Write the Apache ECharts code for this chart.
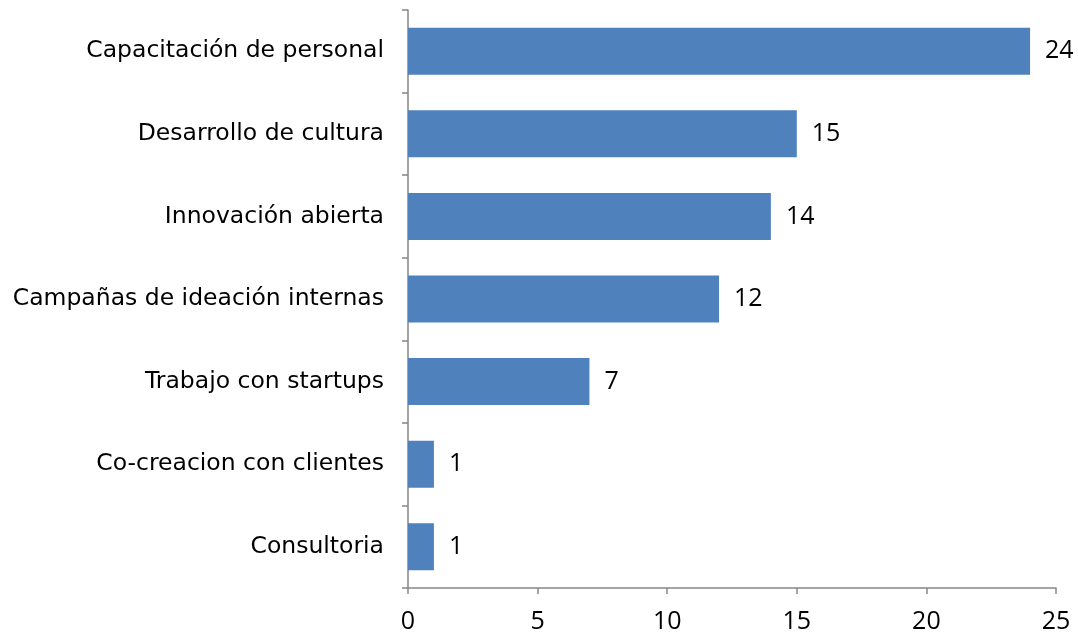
<!DOCTYPE html>
<html>
<head>
<meta charset="utf-8">
<script src="https://cdn.jsdelivr.net/npm/echarts@6/dist/echarts.min.js"></script>
<style>html,body{margin:0;padding:0;background:#fff}#c{width:1078px;height:632px}</style>
</head>
<body>
<div id="c"></div>
<script>
const categories = ["Capacitación de personal","Desarrollo de cultura","Innovación abierta","Campañas de ideación internas","Trabajo con startups","Co-creacion con clientes","Consultoria"];
const values = [24,15,14,12,7,1,1];
const xTicks = [0,5,10,15,20,25];

const chart = echarts.init(document.getElementById('c'));
chart.setOption({
  animation:false,
  grid:{left:408,right:22,top:10,bottom:44,containLabel:false,outerBoundsMode:'none'},
  xAxis:{type:'value',min:xTicks[0],max:xTicks[xTicks.length-1],interval:5,
    axisLine:{show:true,lineStyle:{color:'#868686',width:1.5}},
    axisTick:{show:true,length:6,lineStyle:{color:'#868686',width:1.5}},
    splitLine:{show:false},
    axisLabel:{color:'#000',fontSize:25,fontFamily:'Open Sans',margin:21}},
  yAxis:{type:'category',inverse:true,data:categories,
    axisLine:{show:true,lineStyle:{color:'#868686',width:1.5}},
    axisTick:{show:true,length:6,lineStyle:{color:'#868686',width:1.5}},
    axisLabel:{color:'#000',fontSize:23.5,fontFamily:'DejaVu Sans',margin:24,padding:[8,0,0,0]}},
  series:[{type:'bar',data:values,barWidth:47,
    itemStyle:{color:'#4F81BD'},
    label:{show:true,position:'right',distance:15,color:'#000',fontSize:25,fontFamily:'Open Sans',padding:[3,0,0,0]}}]
});
</script>
</body>
</html>
